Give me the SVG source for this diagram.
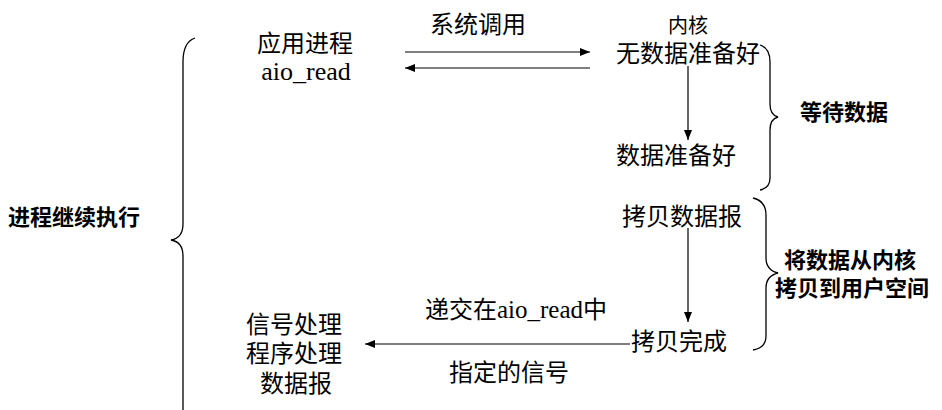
<svg xmlns="http://www.w3.org/2000/svg" width="942" height="410" viewBox="0 0 942 410">
<style>
text{font-family:"Liberation Serif","Noto Sans CJK SC",serif;font-size:24px;fill:#000}
.b{font-weight:bold;font-size:22px}
.c{text-anchor:middle}
.ln{stroke:#000;stroke-width:1.2;fill:none}
.br{stroke:#000;stroke-width:1.3;fill:none}
</style>
<defs>
<marker id="ah" viewBox="0 0 10 10" refX="10" refY="5" markerWidth="10" markerHeight="10" markerUnits="userSpaceOnUse" orient="auto">
<path d="M0,1 L10,5 L0,9 Z" fill="#000"/>
</marker>
</defs>
<g id="braces">
<path class="br" d="M195,38 Q183,42 183,62 L183,224 Q183,238 171,240 Q183,242 183,256 L183,410"/>
<path class="br" d="M760,45 Q770,48 770,62 L770,104 Q770,115 778,117 Q770,119 770,130 L770,178 Q770,188 760,190"/>
<path class="br" d="M753,198 Q766,201 766,215 L766,258 Q766,270 778,273 Q766,276 766,288 L766,336 Q766,348 753,350"/>
</g>
<g id="app"><text class="c" x="305" y="52">应用进程</text><text class="c" x="306" y="80" style="font-size:26px">aio_read</text></g>
<g id="kernel"><text class="c" x="688" y="33" style="font-size:20px">内核</text><text class="c" x="688" y="62">无数据准备好</text></g>
<g id="ready"><text class="c" x="676" y="164">数据准备好</text></g>
<g id="copy"><text class="c" x="682" y="225">拷贝数据报</text></g>
<g id="done"><text class="c" x="679" y="350">拷贝完成</text></g>
<g id="handler"><text class="c" x="294" y="333">信号处理</text><text class="c" x="294" y="362">程序处理</text><text class="c" x="296" y="392">数据报</text></g>
<g id="labels">
<text class="c" x="478" y="33">系统调用</text>
<text class="c" x="516" y="318">递交在<tspan style="font-size:25px">aio_read</tspan>中</text>
<text class="c" x="509" y="381">指定的信号</text>
<text class="b" x="800" y="120">等待数据</text>
<text class="b" x="8" y="225">进程继续执行</text>
<text class="b c" x="850" y="268">将数据从内核</text>
<text class="b c" x="852" y="296">拷贝到用户空间</text>
</g>
<g id="connectors">
<line class="ln" x1="405" y1="52" x2="590" y2="52" marker-end="url(#ah)"/>
<line class="ln" x1="590" y1="68" x2="405" y2="68" marker-end="url(#ah)"/>
<line class="ln" x1="688" y1="66" x2="688" y2="140" marker-end="url(#ah)"/>
<line class="ln" x1="688" y1="228" x2="688" y2="322" marker-end="url(#ah)"/>
<line class="ln" x1="630" y1="344" x2="365" y2="344" marker-end="url(#ah)"/>
</g>
</svg>
